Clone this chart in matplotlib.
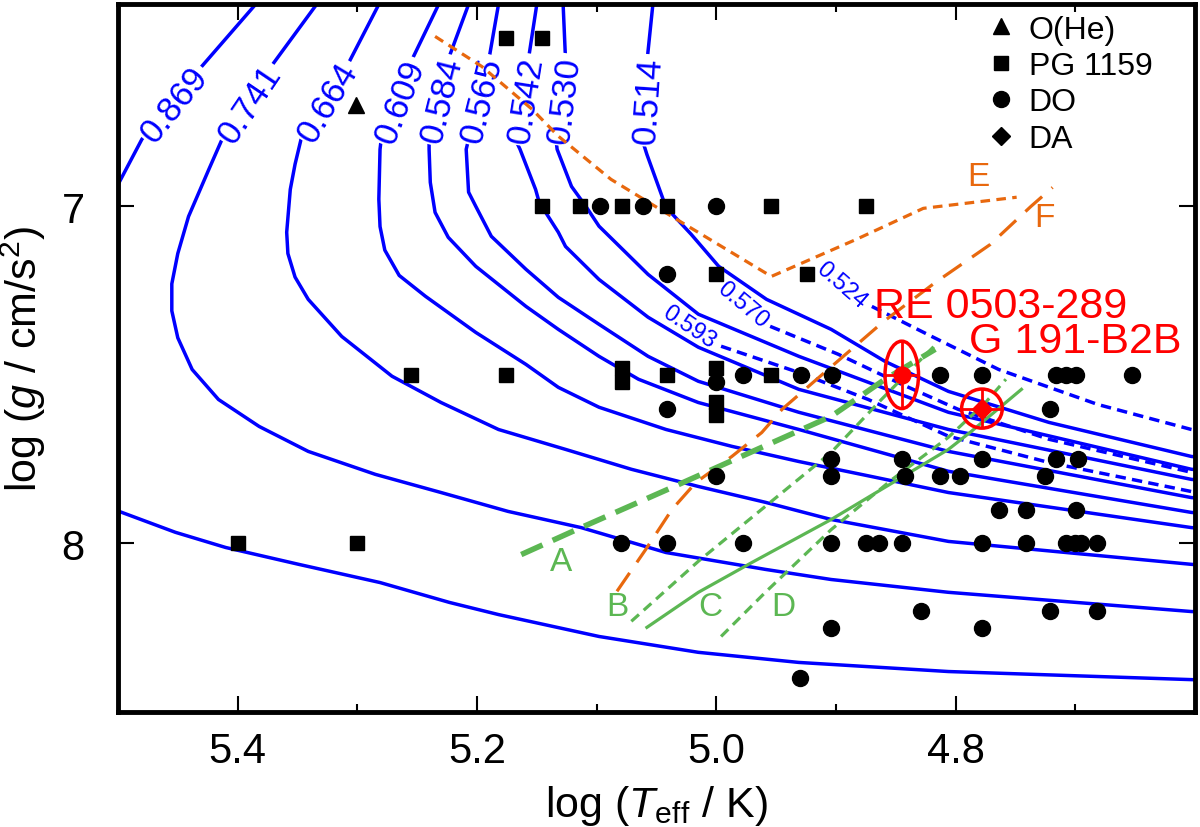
import matplotlib.pyplot as plt
from matplotlib.lines import Line2D
from matplotlib.patches import Ellipse

plt.rcParams['font.family'] = ['Liberation Sans', 'DejaVu Sans']
plt.rcParams['mathtext.fontset'] = 'custom'
plt.rcParams['mathtext.rm'] = 'Liberation Sans'
plt.rcParams['mathtext.it'] = 'Liberation Sans:italic'

BLUE = '#0000ff'
ORANGE = '#e8680e'
GREEN = '#5cb753'
RED = '#ff0000'

# --- evolutionary tracks (log Teff, log g), solid ---
t_0869 = [5.363, 5.385, 5.430, 5.480, 5.499, 5.533, 5.541, 5.533, 5.499, 5.452, 5.410, 5.349, 5.281, 5.223, 5.182, 5.098, 5.015, 4.931, 4.806, 4.603, 4.58]
g_0869 = [6.312, 6.401, 6.585, 6.801, 6.929, 7.157, 7.424, 7.691, 7.905, 7.967, 8.012, 8.062, 8.116, 8.175, 8.211, 8.276, 8.323, 8.353, 8.380, 8.404, 8.406]
t_0741 = [5.316, 5.334, 5.372, 5.413, 5.424, 5.441, 5.450, 5.455, 5.455, 5.450, 5.438, 5.416, 5.382, 5.341, 5.285, 5.230, 5.174, 5.113, 5.042, 4.959, 4.904, 4.806, 4.603, 4.58]
g_0741 = [6.312, 6.401, 6.585, 6.801, 6.890, 7.030, 7.140, 7.230, 7.310, 7.390, 7.484, 7.573, 7.653, 7.727, 7.795, 7.849, 7.905, 7.953, 8.027, 8.077, 8.107, 8.145, 8.202, 8.205]
t_0664 = [5.269, 5.282, 5.307, 5.347, 5.352, 5.356, 5.359, 5.358, 5.352, 5.341, 5.313, 5.271, 5.230, 5.182, 5.126, 5.071, 5.015, 4.959, 4.904, 4.806, 4.603, 4.58]
g_0664 = [6.312, 6.401, 6.573, 6.801, 6.875, 6.950, 7.077, 7.140, 7.210, 7.276, 7.386, 7.504, 7.582, 7.662, 7.721, 7.780, 7.831, 7.878, 7.929, 7.994, 8.062, 8.068]
t_0609 = [5.220, 5.232, 5.255, 5.280, 5.281, 5.282, 5.281, 5.277, 5.265, 5.243, 5.201, 5.159, 5.132, 5.098, 5.042, 4.987, 4.931, 4.875, 4.806, 4.603, 4.58]
g_0609 = [6.312, 6.401, 6.570, 6.801, 6.831, 6.979, 7.060, 7.130, 7.205, 7.267, 7.374, 7.469, 7.537, 7.596, 7.662, 7.712, 7.757, 7.798, 7.849, 7.953, 7.960]
t_0584 = [5.203, 5.207, 5.224, 5.240, 5.240, 5.239, 5.235, 5.224, 5.201, 5.159, 5.132, 5.098, 5.065, 5.015, 4.931, 4.806, 4.603, 4.58]
g_0584 = [6.312, 6.401, 6.564, 6.801, 6.831, 6.929, 7.018, 7.092, 7.178, 7.297, 7.365, 7.445, 7.513, 7.582, 7.662, 7.786, 7.908, 7.915]
t_0565 = [5.179, 5.182, 5.190, 5.207, 5.209, 5.207, 5.201, 5.188, 5.159, 5.132, 5.098, 5.057, 5.015, 4.931, 4.806, 4.603, 4.58]
g_0565 = [6.312, 6.401, 6.564, 6.801, 6.831, 6.958, 7.000, 7.089, 7.187, 7.270, 7.350, 7.445, 7.519, 7.611, 7.727, 7.864, 7.870]
t_0542 = [5.148, 5.150, 5.157, 5.168, 5.164, 5.151, 5.148, 5.132, 5.126, 5.098, 5.057, 5.015, 4.931, 4.806, 4.603, 4.58]
g_0542 = [6.312, 6.401, 6.564, 6.801, 6.831, 6.950, 6.988, 7.077, 7.119, 7.217, 7.329, 7.418, 7.543, 7.662, 7.810, 7.817]
t_0530 = [5.126, 5.128, 5.126, 5.134, 5.133, 5.121, 5.109, 5.098, 5.057, 5.015, 4.931, 4.806, 4.603, 4.58]
g_0530 = [6.312, 6.401, 6.564, 6.801, 6.831, 6.941, 7.000, 7.059, 7.202, 7.320, 7.445, 7.611, 7.780, 7.787]
t_0514 = [5.051, 5.053, 5.058, 5.062, 5.058, 5.042, 5.021, 4.998, 4.958, 4.904, 4.859, 4.806, 4.722, 4.603, 4.58]
g_0514 = [6.312, 6.401, 6.573, 6.801, 6.846, 7.003, 7.083, 7.178, 7.276, 7.365, 7.460, 7.549, 7.641, 7.742, 7.750]

# dashed tracks (first point = label position)
t_0524 = [4.894, 4.870, 4.820, 4.764, 4.681, 4.603, 4.58]
g_0524 = [7.226, 7.297, 7.386, 7.484, 7.588, 7.662, 7.680]
t_0570 = [4.977, 4.955, 4.898, 4.845, 4.798, 4.722, 4.603, 4.58]
g_0570 = [7.285, 7.356, 7.439, 7.528, 7.602, 7.691, 7.789, 7.800]
t_0593 = [5.022, 4.996, 4.931, 4.873, 4.806, 4.722, 4.603, 4.58]
g_0593 = [7.350, 7.415, 7.493, 7.573, 7.682, 7.760, 7.846, 7.860]

# track labels
solid_names = ['0.869', '0.741', '0.664', '0.609', '0.584', '0.565', '0.542', '0.530', '0.514']
solid_lab_t = [5.455, 5.392, 5.327, 5.267, 5.232, 5.199, 5.162, 5.130, 5.060]
solid_lab_g = [6.691, 6.691, 6.685, 6.685, 6.682, 6.682, 6.682, 6.682, 6.685]
solid_lab_rot = [51, 56, 59, 69, 76, 76, 81, 83, 86]
dashed_names = ['0.524', '0.570', '0.593']
dashed_lab_rot = [-41, -40, -34]

# --- other tracks / instability strips ---
e_t = [5.235, 5.196, 5.154, 5.132, 5.088, 5.040, 4.954, 4.883, 4.827, 4.749]
e_g = [6.496, 6.585, 6.712, 6.792, 6.920, 7.024, 7.208, 7.098, 7.006, 6.973]
f_t = [5.083, 5.059, 5.037, 5.017, 4.987, 4.962, 4.945, 4.919, 4.887, 4.860, 4.817, 4.771, 4.737, 4.719]
f_g = [8.142, 8.018, 7.899, 7.819, 7.742, 7.671, 7.602, 7.522, 7.424, 7.341, 7.226, 7.113, 7.000, 6.944]
a_t = [5.163, 5.113, 5.037, 4.981, 4.904, 4.859, 4.817]
a_g = [8.033, 7.953, 7.834, 7.745, 7.623, 7.513, 7.424]
b_t = [5.071, 5.015, 4.959, 4.904, 4.862, 4.839, 4.818]
b_g = [8.231, 8.053, 7.890, 7.730, 7.573, 7.490, 7.415]
c_t = [5.058, 5.015, 4.970, 4.904, 4.848, 4.806, 4.787, 4.745]
c_g = [8.249, 8.145, 8.056, 7.929, 7.810, 7.721, 7.668, 7.543]
d_t = [4.996, 4.959, 4.904, 4.853, 4.806, 4.775, 4.758]
d_g = [8.276, 8.145, 7.959, 7.810, 7.685, 7.582, 7.513]

letters = ['A', 'B', 'C', 'D', 'E', 'F']
letter_t = [5.130, 5.083, 5.005, 4.944, 4.781, 4.726]
letter_g = [8.053, 8.187, 8.187, 8.187, 6.911, 7.033]
letter_col = [GREEN, GREEN, GREEN, GREEN, ORANGE, ORANGE]

# --- stars ---
ohe_t = [5.301]
ohe_g = [6.70]
pg_t = [5.176, 5.146, 5.146, 5.114, 5.079, 5.041, 4.954, 4.875, 5.000, 4.924,
        5.255, 5.176, 5.079, 5.079, 5.041, 5.000, 4.954, 5.000, 5.000, 5.400, 5.300]
pg_g = [6.50, 6.50, 7.00, 7.00, 7.00, 7.00, 7.00, 7.00, 7.20, 7.20,
        7.50, 7.50, 7.48, 7.52, 7.50, 7.48, 7.50, 7.58, 7.62, 8.00, 8.00]
do_t = [5.097, 5.061, 5.000, 5.041,
        5.000, 4.978, 4.929, 4.903, 4.813, 4.778, 4.716, 4.708, 4.699, 4.653,
        5.041, 4.721,
        4.904, 4.845, 4.778, 4.716, 4.698,
        5.000, 4.904, 4.842, 4.813, 4.796, 4.725,
        4.764, 4.741, 4.699,
        5.080, 5.041, 4.978, 4.904, 4.875, 4.864, 4.845, 4.778, 4.741, 4.708, 4.700, 4.695, 4.682,
        4.829, 4.721, 4.682,
        4.904, 4.778,
        4.930]
do_g = [7.00, 7.00, 7.00, 7.20,
        7.52, 7.50, 7.50, 7.50, 7.50, 7.50, 7.50, 7.50, 7.50, 7.50,
        7.60, 7.60,
        7.75, 7.75, 7.75, 7.75, 7.75,
        7.80, 7.80, 7.80, 7.80, 7.80, 7.80,
        7.90, 7.90, 7.90,
        8.00, 8.00, 8.00, 8.00, 8.00, 8.00, 8.00, 8.00, 8.00, 8.00, 8.00, 8.00, 8.00,
        8.20, 8.20, 8.20,
        8.25, 8.25,
        8.40]

# RE 0503-289 (DO) and G 191-B2B (DA) with errors
re_t, re_g, re_dt, re_dg = 4.845, 7.50, 0.014, 0.10
gb_t, gb_g, gb_dt, gb_dg = 4.778, 7.60, 0.017, 0.058

fig = plt.figure(figsize=(12, 8.28), dpi=100)
ax = fig.add_axes([0.0983, 0.1389, 0.8975, 0.855])

solid_tracks = [(t_0869, g_0869), (t_0741, g_0741), (t_0664, g_0664), (t_0609, g_0609),
                (t_0584, g_0584), (t_0565, g_0565), (t_0542, g_0542), (t_0530, g_0530),
                (t_0514, g_0514)]
for tt, gg in solid_tracks:
    ax.plot(tt, gg, color=BLUE, lw=2.5, zorder=2, solid_joinstyle='round')

dashed_tracks = [(t_0524, g_0524), (t_0570, g_0570), (t_0593, g_0593)]
for tt, gg in dashed_tracks:
    # line starts where the label ends
    ax.plot(tt[1:], gg[1:], color=BLUE, lw=2.5, dashes=(3, 1.8), zorder=2)

box = dict(boxstyle='square,pad=0.08', fc='white', ec='none')
for name, lt, lg, rot in zip(solid_names, solid_lab_t, solid_lab_g, solid_lab_rot):
    ax.text(lt, lg, name, rotation=rot, rotation_mode='anchor', ha='center',
            va='center_baseline', fontsize=25, color=BLUE, bbox=box, zorder=3)
for name, (tt, gg), rot in zip(dashed_names, dashed_tracks, dashed_lab_rot):
    ax.text(tt[0], gg[0], name, rotation=rot, rotation_mode='anchor', ha='center',
            va='center_baseline', fontsize=17, color=BLUE, zorder=3)

# orange tracks
ax.plot(e_t, e_g, color=ORANGE, lw=2.3, dashes=(3, 2), zorder=4)
ax.plot(f_t, f_g, color=ORANGE, lw=2.3, dashes=(7, 4), zorder=4)
# green strips
ax.plot(a_t, a_g, color=GREEN, lw=4.0, dashes=(4.2, 2), zorder=4)
ax.plot(b_t, b_g, color=GREEN, lw=2.3, dashes=(3.2, 2), zorder=4)
ax.plot(c_t, c_g, color=GREEN, lw=2.3, zorder=4)
ax.plot(d_t, d_g, color=GREEN, lw=2.3, dashes=(3.2, 2), zorder=4)

for s, lt, lg, col in zip(letters, letter_t, letter_g, letter_col):
    ax.text(lt, lg, s, fontsize=24, color=col, ha='center', va='center', zorder=4)

# stars
ax.plot(ohe_t, ohe_g, '^', color='k', ms=11, ls='none', zorder=5)
ax.plot(pg_t, pg_g, 's', color='k', ms=10, ls='none', zorder=5)
ax.plot(do_t, do_g, 'o', color='k', ms=11.5, ls='none', zorder=5)

# the two reference stars with error ellipses
ax.add_patch(Ellipse((re_t, re_g), 2 * re_dt, 2 * re_dg, fill=False, ec=RED, lw=2.5, zorder=6))
ax.errorbar([re_t], [re_g], xerr=[re_dt], yerr=[re_dg], fmt='o', color=RED, ms=12,
            elinewidth=2, capsize=0, zorder=6)
ax.add_patch(Ellipse((gb_t, gb_g), 2 * gb_dt, 2 * gb_dg, fill=False, ec=RED, lw=2.5, zorder=6))
ax.errorbar([gb_t], [gb_g], xerr=[gb_dt], yerr=[gb_dg], fmt='D', color=RED, ms=10,
            elinewidth=2, capsize=0, zorder=6)
ax.text(4.868, 7.329, 'RE 0503-289', fontsize=31, color=RED, ha='left', va='baseline', zorder=6)
ax.text(4.789, 7.433, 'G 191-B2B', fontsize=31, color=RED, ha='left', va='baseline', zorder=6)

# legend
handles = [Line2D([], [], marker='^', color='k', ls='none', ms=11),
           Line2D([], [], marker='s', color='k', ls='none', ms=10),
           Line2D([], [], marker='o', color='k', ls='none', ms=11.5),
           Line2D([], [], marker='D', color='k', ls='none', ms=9)]
ax.legend(handles, ['O(He)', 'PG 1159', 'DO', 'DA'], loc='upper left',
          bbox_to_anchor=(0.807, 0.985), frameon=False, fontsize=23, handlelength=0.9,
          handletextpad=0.4, labelspacing=0.2, borderpad=0, borderaxespad=0)

ax.set_xlim(5.5, 4.6)
ax.set_ylim(8.5, 6.4)
ax.set_xticks([5.4, 5.2, 5.0, 4.8])
ax.set_xticks([5.3, 5.1, 4.9, 4.7], minor=True)
ax.set_yticks([7, 8])
ax.tick_params(which='both', direction='in', top=True, right=True, width=1.5)
ax.tick_params(which='major', length=11.5, labelsize=30)
ax.tick_params(which='minor', length=6)
ax.tick_params(axis='x', pad=14)
ax.tick_params(axis='y', pad=24)
for sp in ax.spines.values():
    sp.set_linewidth(3.5)

ax.set_xlabel(r'log ($T_{\rm eff}$ / K)', fontsize=31, labelpad=8)
ax.set_ylabel(r'log ($g$ / cm/s$^2$)', fontsize=31, labelpad=10)

fig.savefig('out.png', dpi=100)
